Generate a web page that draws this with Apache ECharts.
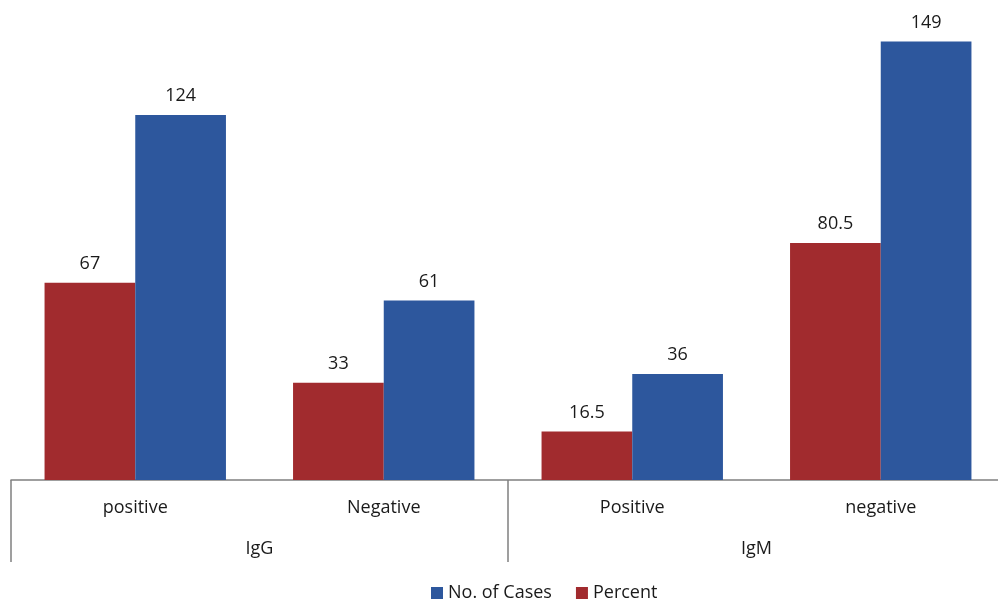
<!DOCTYPE html>
<html>
<head>
<meta charset="utf-8">
<script src="https://cdn.jsdelivr.net/npm/echarts@6/dist/echarts.min.js"></script>
<style>
  html, body { margin: 0; padding: 0; background: #fff; }
  #chart { width: 998px; height: 601px; }
</style>
</head>
<body>
<div id="chart"></div>
<script>
const categories = ['positive', 'Negative', 'Positive', 'negative'];
const groups = ['IgG', 'IgM'];
const percent = [67, 33, 16.5, 80.5];
const cases = [124, 61, 36, 149];

const FONT = "'Open Sans', 'Liberation Sans', sans-serif";
const labelStyle = {
  show: true,
  position: 'top',
  distance: 10,
  color: '#1a1a1a',
  fontSize: 18,
  fontFamily: FONT
};

const chart = echarts.init(document.getElementById('chart'));
chart.setOption({
  backgroundColor: '#fff',
  animation: false,
  grid: { left: 11, width: 994, top: 9, bottom: 121, outerBoundsMode: 'none' },
  legend: {
    data: ['No. of Cases', 'Percent'],
    left: 426,
    top: 579,
    itemWidth: 12,
    itemHeight: 12,
    itemGap: 24,
    icon: 'rect',
    textStyle: { fontSize: 18, color: '#1a1a1a', fontFamily: FONT }
  },
  xAxis: [
    {
      type: 'category',
      data: categories,
      position: 'bottom',
      axisLine: { show: true, lineStyle: { color: '#808080', width: 1.5 } },
      axisTick: { show: false },
      axisLabel: { margin: 19, fontSize: 18, color: '#1a1a1a', fontFamily: FONT }
    },
    {
      type: 'category',
      data: groups,
      position: 'bottom',
      axisLine: { show: false },
      axisTick: { show: true, length: 82, lineStyle: { color: '#808080', width: 1.5 } },
      axisLabel: { margin: 60, fontSize: 18, color: '#1a1a1a', fontFamily: FONT }
    }
  ],
  yAxis: {
    type: 'value',
    min: 0,
    max: 160,
    show: false,
    splitLine: { show: false }
  },
  series: [
    {
      name: 'Percent',
      type: 'bar',
      xAxisIndex: 0,
      data: percent,
      barGap: '0%',
      barCategoryGap: '27%',
      itemStyle: { color: '#A12B2E' },
      label: labelStyle
    },
    {
      name: 'No. of Cases',
      type: 'bar',
      xAxisIndex: 0,
      data: cases,
      itemStyle: { color: '#2D579D' },
      label: labelStyle
    }
  ]
});
</script>
</body>
</html>
